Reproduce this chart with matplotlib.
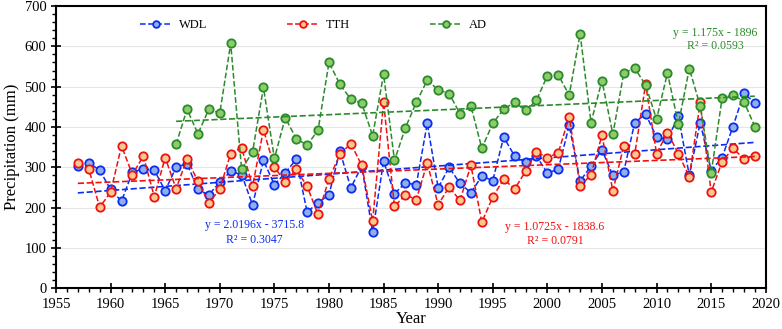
import numpy as np
import matplotlib.pyplot as plt
from matplotlib.ticker import MultipleLocator

plt.rcParams['font.family'] = ['Liberation Serif', 'DejaVu Serif']

years = np.arange(1957, 2020)
ad_years = np.arange(1966, 2020)

wdl = [303, 311, 293, 245, 216, 288, 296, 293, 242, 300,
       309, 245, 232, 263, 290, 282, 207, 317, 257, 286,
       320, 189, 212, 232, 340, 249, 303, 139, 315, 235,
       261, 257, 409, 249, 300, 260, 237, 278, 267, 375,
       328, 313, 328, 286, 295, 404, 266, 303, 343, 280,
       289, 411, 432, 375, 369, 427, 280, 411, 292, 324,
       401, 484, 459]
tth = [311, 296, 201, 238, 353, 282, 328, 227, 324, 247,
       321, 265, 212, 246, 334, 349, 253, 393, 301, 263,
       295, 253, 183, 271, 332, 359, 305, 166, 462, 203,
       232, 220, 311, 207, 251, 218, 305, 164, 226, 271,
       246, 290, 338, 324, 336, 425, 253, 282, 379, 242,
       353, 332, 506, 334, 386, 334, 276, 461, 238, 314,
       347, 321, 329]
ad = [357, 444, 383, 444, 434, 607, 295, 338, 498, 322,
      423, 371, 355, 392, 560, 506, 469, 459, 378, 531,
      317, 398, 461, 516, 492, 483, 433, 452, 347, 409,
      444, 461, 441, 466, 527, 529, 479, 631, 411, 515,
      382, 534, 546, 504, 419, 534, 407, 545, 452, 285,
      471, 480, 463, 401]

# trend equations printed on the chart: (slope, intercept, r2)
fits = {'WDL': (2.0196, -3715.8, 0.3047),
        'TTH': (1.0725, -1838.6, 0.0791),
        'AD': (1.175, -1896, 0.0593)}

fig = plt.figure(figsize=(7.82, 3.29), dpi=100)
ax = fig.add_axes([0.0716, 0.1237, 0.9076, 0.8581])

series = [('WDL', years, wdl, '#0a2cf5', '#8fb0e6'),
          ('TTH', years, tth, '#f01010', '#f7c98f'),
          ('AD', ad_years, ad, '#2b8a2b', '#8ccd6a')]

for name, xs, ys, c, fc in series:
    ax.plot(xs, ys, '--', color=c, lw=1.1, marker='o', ms=6,
            mfc=fc, mec=c, mew=1.3, label=name)
    k, b, r2 = fits[name]
    xx = np.array([xs[0], xs[-1]])
    ax.plot(xx, k * xx + b, '--', color=c, lw=1.2)

ax.text(1973.2, 157, 'y = 2.0196x - 3715.8', color='#0a2cf5', fontsize=8.5, ha='center', va='center')
ax.text(1973.2, 120, 'R² = 0.3047', color='#0a2cf5', fontsize=8.5, ha='center', va='center')
ax.text(2000.7, 151, 'y = 1.0725x - 1838.6', color='#f01010', fontsize=8.5, ha='center', va='center')
ax.text(2000.7, 118, 'R² = 0.0791', color='#f01010', fontsize=8.5, ha='center', va='center')
ax.text(2015.4, 634, 'y = 1.175x - 1896', color='#2b8a2b', fontsize=8.5, ha='center', va='center')
ax.text(2015.4, 601, 'R² = 0.0593', color='#2b8a2b', fontsize=8.5, ha='center', va='center')

ax.set_xlim(1955, 2020)
ax.set_ylim(0, 700)
ax.xaxis.set_major_locator(MultipleLocator(5))
ax.xaxis.set_minor_locator(MultipleLocator(1))
ax.yaxis.set_major_locator(MultipleLocator(100))
ax.yaxis.set_minor_locator(MultipleLocator(20))
ax.tick_params(which='major', direction='inout', length=7, width=1.2, labelsize=10.5)
ax.tick_params(which='minor', direction='out', length=3, width=1)
ax.grid(axis='y', color='#e6e6e6', lw=0.8)
ax.set_axisbelow(True)
for s in ax.spines.values():
    s.set_linewidth(1.5)

ax.set_xlabel('Year', fontsize=12, labelpad=0)
ax.set_ylabel('Precipitation (mm)', fontsize=12, labelpad=3)

ax.legend(loc='center', bbox_to_anchor=(0.363, 0.933), ncol=3, frameon=False,
          fontsize=9, handlelength=2.5, handletextpad=0.6, columnspacing=6.4,
          markerscale=0.8)

fig.savefig('out.png', dpi=100)
